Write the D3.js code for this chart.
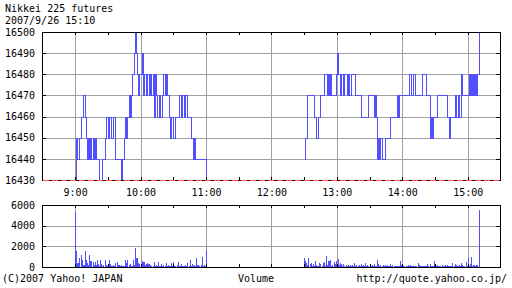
<!DOCTYPE html>
<html>
<head>
<meta charset="utf-8">
<script src="https://cdn.jsdelivr.net/npm/d3@7"></script>
<style>
  body { margin: 0; background: #fff; }
  svg { display: block; }
  text { font-family: "DejaVu Sans Mono", monospace; font-size: 10px; fill: #000; }
  .axis line { stroke: #000; shape-rendering: crispEdges; }
</style>
</head>
<body>
<script>
// chart texts
const title = "Nikkei 225 futures";
const stamp = "2007/9/26 15:10";
const footLeft = "(C)2007 Yahoo! JAPAN";
const footMid = "Volume";
const footRight = "http://quote.yahoo.co.jp/";

// tick values
const priceTicks = [16430, 16440, 16450, 16460, 16470, 16480, 16490, 16500];
const volumeTicks = [0, 2000, 4000, 6000];
const hourLabels = ["9:00", "10:00", "11:00", "12:00", "13:00", "14:00", "15:00"];

// price changes, morning session (time the price moved to, new price)
const amTimes = ["9:00","9:01","9:02","9:04","9:05","9:07","9:09","9:10","9:11","9:12",
  "9:13","9:14","9:15","9:16","9:17","9:18","9:19","9:22","9:25","9:27",
  "9:28","9:30","9:31","9:33","9:35","9:37","9:42","9:43","9:45","9:46",
  "9:47","9:48","9:49","9:50","9:51","9:52","9:54","9:55","9:56","9:57",
  "9:58","9:59","10:01","10:02","10:03","10:05","10:06","10:08","10:09","10:10",
  "10:11","10:12","10:13","10:14","10:15","10:17","10:18","10:20","10:21","10:22",
  "10:23","10:24","10:26","10:27","10:28","10:30","10:32","10:35","10:37","10:38",
  "10:40","10:41","10:43","10:46","10:48","10:49","10:50","11:00"];
const amPrices = [16430,16450,16440,16450,16460,16470,16460,16450,16440,16450,
  16440,16450,16440,16450,16440,16450,16440,16430,16440,16450,
  16460,16450,16460,16450,16460,16440,16430,16440,16450,16460,
  16450,16460,16470,16460,16470,16480,16490,16500,16490,16480,
  16470,16480,16490,16470,16480,16470,16480,16470,16480,16470,
  16480,16460,16480,16470,16460,16470,16460,16470,16480,16470,
  16480,16470,16460,16450,16460,16450,16460,16470,16460,16470,
  16460,16470,16460,16450,16440,16450,16440,16430];

// price changes, afternoon session
const pmTimes = ["12:30","12:31","12:33","12:39","12:41","12:43","12:45","12:48","12:51","12:52",
  "12:53","12:54","12:55","12:59","13:00","13:01","13:03","13:04","13:06","13:07",
  "13:09","13:10","13:11","13:13","13:17","13:22","13:29","13:34","13:35","13:36",
  "13:37","13:38","13:39","13:40","13:41","13:44","13:49","13:55","13:56","13:57",
  "14:06","14:08","14:10","14:12","14:18","14:22","14:25","14:26","14:27","14:28",
  "14:32","14:41","14:43","14:44","14:48","14:49","14:51","14:52","14:54","14:55",
  "15:01","15:02","15:03","15:04","15:05","15:06","15:07","15:08","15:09","15:10"];
const pmPrices = [16440,16450,16470,16460,16450,16460,16470,16480,16470,16480,
  16470,16480,16470,16480,16490,16480,16470,16480,16470,16480,
  16470,16480,16470,16480,16470,16460,16470,16460,16470,16460,
  16440,16450,16440,16450,16440,16450,16460,16470,16460,16470,
  16480,16470,16480,16470,16480,16470,16450,16460,16450,16460,
  16470,16460,16450,16460,16470,16460,16470,16460,16480,16470,
  16480,16470,16480,16470,16480,16470,16480,16470,16480,16500];

// volume per minute, from 9:00 and from 12:30
const amVolume = [5300,1550,400,350,900,1150,700,200,150,1550,
  700,400,200,1200,600,600,500,200,450,150,
  700,300,100,650,300,100,150,700,200,100,
  150,650,300,100,100,150,100,350,500,150,
  200,100,200,100,80,100,700,400,650,150,
  300,100,100,700,200,1850,900,850,400,300,
  150,600,450,500,150,300,400,250,300,150,
  80,100,450,100,150,100,500,100,100,300,
  100,200,100,350,100,150,80,100,400,100,
  500,80,100,150,450,80,100,300,100,80,
  100,150,80,350,100,700,100,250,100,200,
  100,900,150,200,100,150,1000,100,150,100,
  1650];
const pmVolume = [900,600,400,150,900,300,350,100,250,100,
  600,200,100,80,400,250,100,400,450,100,
  1050,150,600,550,650,100,150,500,300,550,
  150,800,150,400,300,100,300,100,200,80,
  150,100,200,100,150,80,400,100,150,80,
  200,100,250,100,150,100,350,100,150,80,
  200,100,150,80,250,100,80,650,250,100,
  150,80,200,100,150,80,200,100,80,250,
  100,150,80,100,60,80,100,80,550,150,
  80,60,100,80,60,200,80,150,60,100,
  80,60,80,60,350,200,80,100,60,100,
  80,60,80,300,80,300,100,80,60,550,
  200,80,150,60,100,80,200,60,80,150,
  60,200,80,60,100,80,400,100,250,150,
  80,100,150,80,350,200,100,80,450,100,
  900,100,250,1000,100,150,150,100,150,150,
  5500];

const blue = "#5050ff";
const gray = "#a0a0a0";
const parse = d3.timeParse("%H:%M");
const crisp = v => Math.round(v) + 0.5;

const svg = d3.select("body").append("svg").attr("width", 512).attr("height", 288);

const x = d3.scaleTime().domain([parse("8:30"), parse("15:30")]).range([42.4, 500.4]);
const yP = d3.scaleLinear().domain([16430, 16500]).range([180, 32]);
const yV = d3.scaleLinear().domain([0, 6000]).range([267, 205]);

const hours = hourLabels.map(parse);
const halfHours = d3.timeMinute.every(30).range(parse("9:00"), parse("15:30"));

// gridlines
function grid(yScale, values) {
  const g = svg.append("g").attr("stroke", gray).attr("shape-rendering", "crispEdges");
  const [y0, y1] = yScale.range();
  g.selectAll(".v").data(hours).join("line")
    .attr("x1", d => crisp(x(d))).attr("x2", d => crisp(x(d)))
    .attr("y1", crisp(y0)).attr("y2", crisp(y1));
  g.selectAll(".h").data(values).join("line")
    .attr("x1", crisp(x.range()[0])).attr("x2", crisp(x.range()[1]))
    .attr("y1", d => crisp(yScale(d))).attr("y2", d => crisp(yScale(d)));
}
grid(yP, priceTicks.slice(1, -1));
grid(yV, volumeTicks.slice(1, -1));

// price line, one path per session
const line = d3.line()
  .x(d => crisp(x(d.t)))
  .y(d => crisp(yP(d.p)))
  .curve(d3.curveStepAfter);
const sessions = [
  amTimes.map((t, i) => ({ t: parse(t), p: amPrices[i] })),
  pmTimes.map((t, i) => ({ t: parse(t), p: pmPrices[i] }))
];
svg.append("g").selectAll("path").data(sessions).join("path")
  .attr("d", line)
  .attr("fill", "none")
  .attr("stroke", blue)
  .attr("stroke-width", 1)
  .attr("shape-rendering", "crispEdges");

// volume bars
const bars = amVolume.map((v, i) => ({ t: d3.timeMinute.offset(parse("9:00"), i), v }))
  .concat(pmVolume.map((v, i) => ({ t: d3.timeMinute.offset(parse("12:30"), i), v })));
svg.append("g").selectAll("rect").data(bars).join("rect")
  .attr("x", d => Math.round(x(d.t)))
  .attr("width", 1)
  .attr("y", d => Math.round(yV(d.v)))
  .attr("height", d => yV(0) - Math.round(yV(d.v)))
  .attr("fill", blue)
  .attr("shape-rendering", "crispEdges");

// frames and ticks for one panel
function panel(yScale, values) {
  const [yb, yt] = yScale.range();
  const left = crisp(x.range()[0]), right = crisp(x.range()[1]);

  svg.append("g").attr("class", "axis")
    .attr("transform", `translate(${left - 0.5},0)`)
    .call(d3.axisLeft(yScale).tickValues(values).tickSizeInner(-4).tickSizeOuter(0)
      .tickPadding(7).tickFormat(d3.format("d")))
    .call(g => g.select(".domain").remove());
  svg.append("g").attr("class", "axis")
    .attr("transform", `translate(${right - 0.5},0)`)
    .call(d3.axisRight(yScale).tickValues(values).tickSizeInner(-4).tickSizeOuter(0).tickFormat(""))
    .call(g => g.select(".domain").remove());
  svg.append("g").attr("class", "axis")
    .attr("transform", `translate(0,${crisp(yt) - 0.5})`)
    .call(d3.axisTop(x).tickValues(halfHours).tickSizeInner(-3).tickSizeOuter(0).tickFormat(""))
    .call(g => g.select(".domain").remove());
  svg.append("g").attr("class", "axis")
    .attr("transform", `translate(0,${crisp(yb) - 0.5})`)
    .call(d3.axisBottom(x).tickValues(halfHours).tickSizeInner(-3).tickSizeOuter(0).tickFormat(""))
    .call(g => g.select(".domain").remove());

  svg.append("rect")
    .attr("x", left).attr("y", crisp(yt))
    .attr("width", right - left).attr("height", crisp(yb) - crisp(yt))
    .attr("fill", "none").attr("stroke", "#000")
    .attr("shape-rendering", "crispEdges");
}
panel(yP, priceTicks);
panel(yV, volumeTicks);

// dashed reference line at the bottom of the price panel
svg.append("line")
  .attr("x1", crisp(x.range()[0])).attr("x2", crisp(x.range()[1]))
  .attr("y1", crisp(yP(16430))).attr("y2", crisp(yP(16430)))
  .attr("stroke", "#ff5050")
  .attr("stroke-dasharray", "6,3")
  .attr("shape-rendering", "crispEdges");

// hour labels
svg.append("g")
  .attr("transform", `translate(0,${crisp(yP(16430))})`)
  .call(d3.axisBottom(x).tickValues(hours).tickSize(0).tickPadding(8).tickFormat(d3.timeFormat("%-H:%M")))
  .call(g => g.select(".domain").remove());

// titles and footer
svg.append("text").attr("x", 5).attr("y", 12).text(title);
svg.append("text").attr("x", 5).attr("y", 24).text(stamp);
svg.append("text").attr("x", 2).attr("y", 282).text(footLeft);
svg.append("text").attr("x", 238).attr("y", 282).text(footMid);
svg.append("text").attr("x", 507).attr("y", 282).attr("text-anchor", "end").text(footRight);
</script>
</body>
</html>
